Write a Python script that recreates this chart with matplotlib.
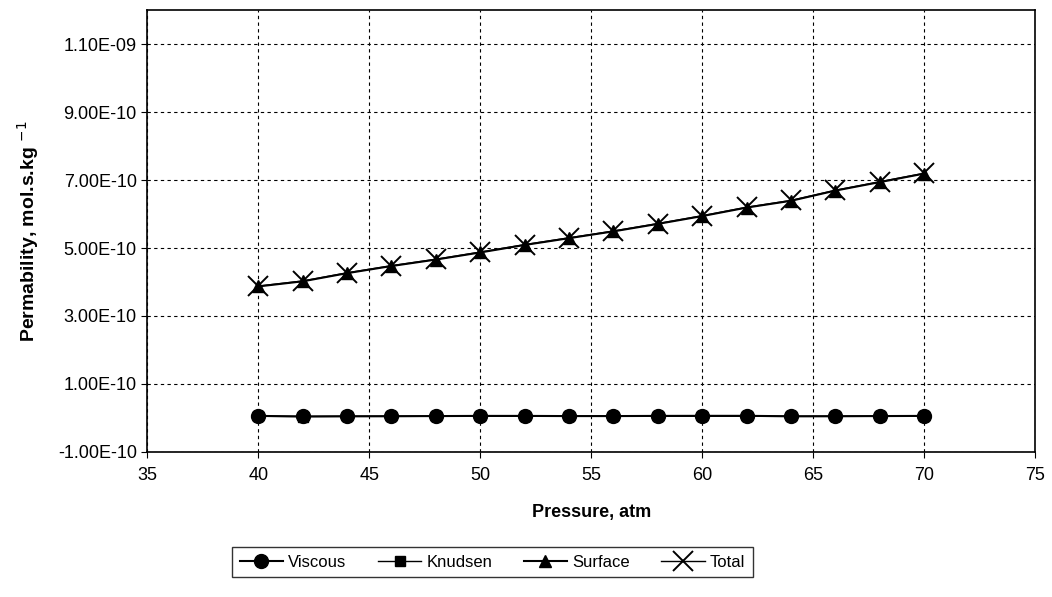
import matplotlib.pyplot as plt
from matplotlib.ticker import FuncFormatter

plt.rcParams['font.family'] = ['Liberation Sans', 'DejaVu Sans']

# --- données ---
pressure = [40, 42, 44, 46, 48, 50, 52, 54, 56, 58, 60, 62, 64, 66, 68, 70]
viscous = [6.0e-12, 4.5e-12, 5.0e-12, 5.2e-12, 5.5e-12, 6.0e-12, 6.0e-12, 5.5e-12,
           5.5e-12, 6.0e-12, 6.2e-12, 6.2e-12, 5.0e-12, 5.2e-12, 5.5e-12, 6.0e-12]
knudsen = [5.0e-12, 4.0e-12, 4.5e-12, 4.5e-12, 5.0e-12, 5.0e-12, 5.0e-12, 5.0e-12,
           5.0e-12, 5.0e-12, 5.0e-12, 5.0e-12, 4.5e-12, 4.5e-12, 5.0e-12, 5.0e-12]
surface = [3.87e-10, 4.02e-10, 4.26e-10, 4.47e-10, 4.66e-10, 4.87e-10, 5.09e-10, 5.29e-10,
           5.49e-10, 5.71e-10, 5.94e-10, 6.19e-10, 6.39e-10, 6.69e-10, 6.94e-10, 7.19e-10]
total = [3.88e-10, 4.03e-10, 4.27e-10, 4.48e-10, 4.67e-10, 4.88e-10, 5.10e-10, 5.30e-10,
         5.50e-10, 5.72e-10, 5.95e-10, 6.20e-10, 6.40e-10, 6.70e-10, 6.95e-10, 7.20e-10]

y_ticks = [-1.0e-10, 1.0e-10, 3.0e-10, 5.0e-10, 7.0e-10, 9.0e-10, 1.1e-09]
x_ticks = [35, 40, 45, 50, 55, 60, 65, 70, 75]

fig = plt.figure(figsize=(10.52, 5.97), dpi=100)
ax = fig.add_axes([0.140, 0.243, 0.844, 0.740])

ax.plot(pressure, viscous, color="black", lw=1.5, marker="o", ms=10, label="Viscous")
ax.plot(pressure, knudsen, color="black", lw=1, marker="s", ms=7, label="Knudsen")
ax.plot(pressure, surface, color="black", lw=1.5, marker="^", ms=9, label="Surface")
ax.plot(pressure, total, color="black", lw=1, marker="x", ms=14, mew=1.4, label="Total")

ax.set_xlim(35, 75)
ax.set_ylim(-1.0e-10, 1.2e-09)
ax.set_xticks(x_ticks)
ax.set_yticks(y_ticks)


def fmt_sci(v, pos):
    s = "%.2E" % v
    mant, exp = s.split("E")
    return "%sE%s%02d" % (mant, "-" if int(exp) < 0 else "+", abs(int(exp)))


ax.yaxis.set_major_formatter(FuncFormatter(fmt_sci))
ax.grid(True, color="black", ls=(0, (3, 3)), lw=0.8)
ax.tick_params(labelsize=13, direction="out", length=4, color="black")
ax.tick_params(axis="x", pad=7)
for s in ax.spines.values():
    s.set_color("black")
    s.set_linewidth(1.2)

ax.set_xlabel("Pressure, atm", fontsize=13, fontweight="bold", labelpad=14)
ax.set_ylabel(r"Permability, mol.s.kg $^{-1}$", fontsize=14, fontweight="bold", labelpad=12)

leg = fig.legend(loc="center", bbox_to_anchor=(0.468, 0.058), ncol=4, fontsize=12,
                 frameon=True, fancybox=False, edgecolor="black", handlelength=2.6,
                 handletextpad=0.3, columnspacing=1.9, borderpad=0.45)
leg.get_frame().set_linewidth(1.0)

fig.savefig("out.png", dpi=100)
